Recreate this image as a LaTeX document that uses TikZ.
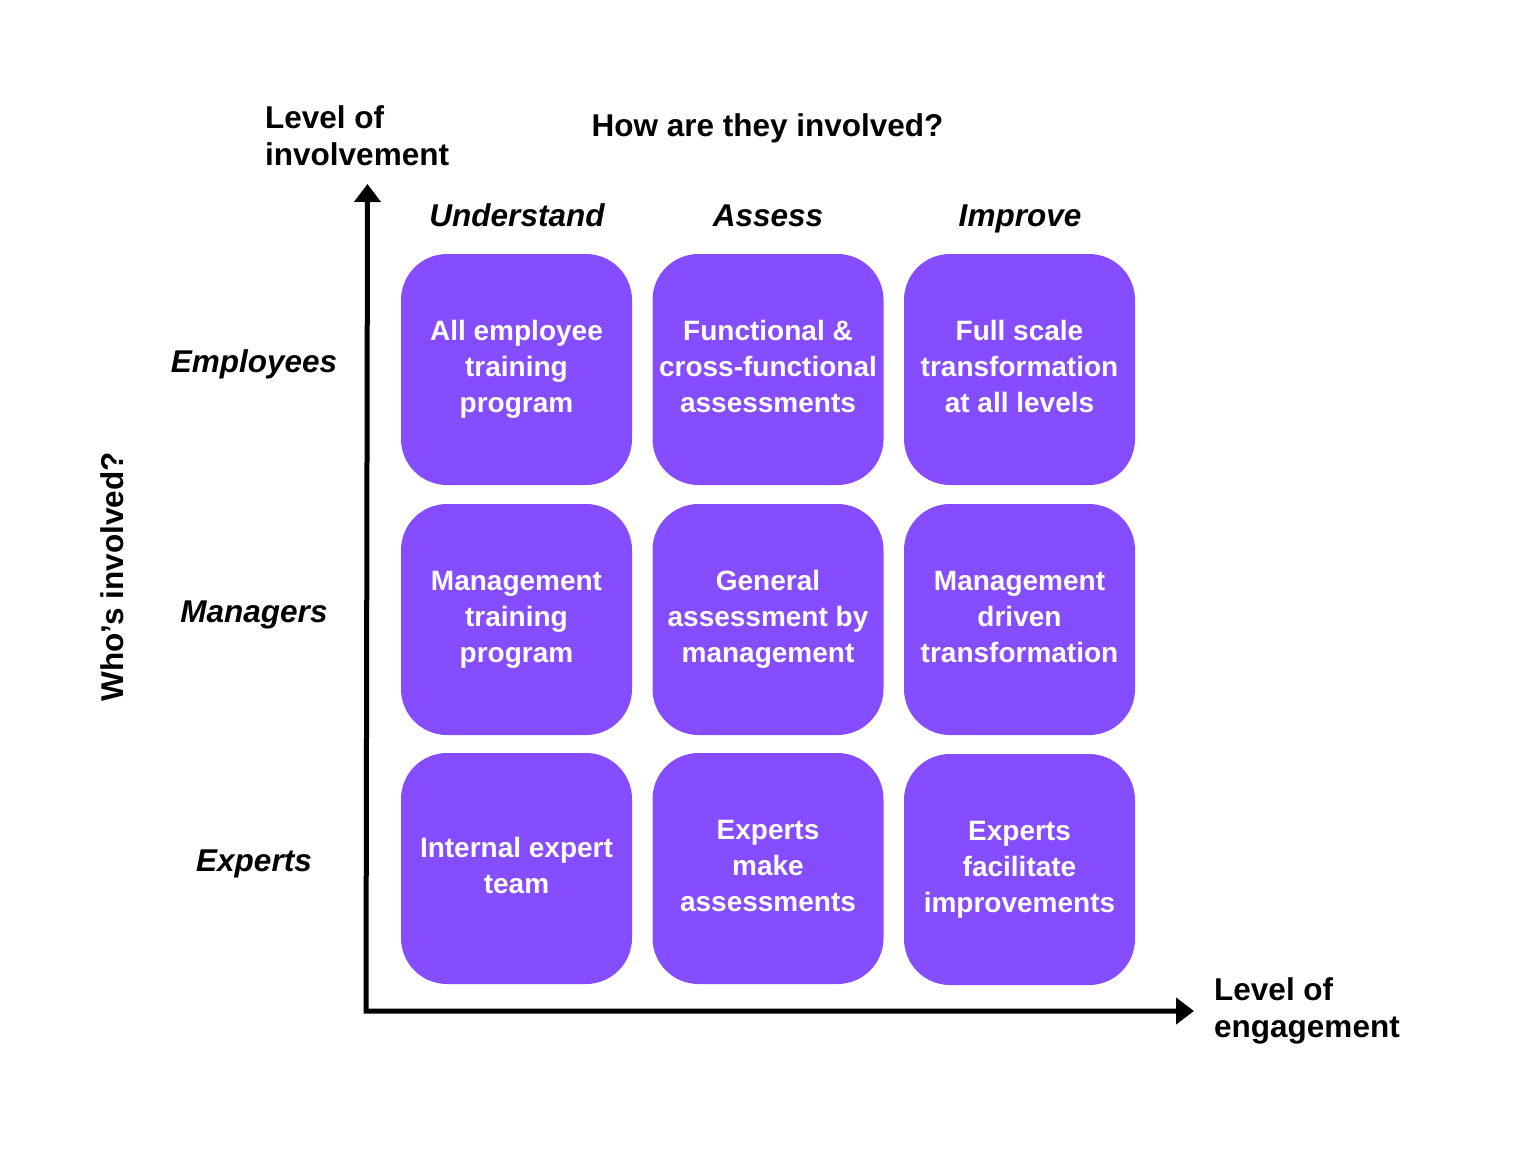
\documentclass[tikz,border=0pt]{standalone}
\usepackage{fontspec}
\setmainfont{Liberation Sans}
\usetikzlibrary{arrows.meta}
\definecolor{boxpurple}{HTML}{854DFF}
\newcommand{\lp}{\vphantom{Alg}}
\tikzset{
  cell/.style={fill=boxpurple, draw=none, rounded corners=46pt, minimum width=231pt, minimum height=231pt,
    text=white, font=\bfseries\fontsize{28}{36}\selectfont, align=center, inner sep=0pt},
  head/.style={font=\bfseries\fontsize{31.5}{37.5}\selectfont, inner sep=0pt, text=black},
  colhead/.style={font=\bfseries\itshape\fontsize{31.5}{37.5}\selectfont, inner sep=0pt, anchor=base},
  axis/.style={line width=5pt, line join=miter, {Triangle[length=18pt,width=26pt]}-{Triangle[length=18pt,width=26pt]}}
}
\begin{document}
\begin{tikzpicture}[x=1pt,y=-1pt]
\useasboundingbox (0,0) rectangle (1536,1152);
\fill[white] (0,0) rectangle (1536,1152);
% axes
\coordinate (ytip) at (367.5,184);
\coordinate (orig) at (366,1011);
\coordinate (xtip) at (1194,1011);
\draw[axis] (ytip) -- (orig) -- (xtip);
% headings
\node[head, anchor=north west, align=left] (yaxl) at (265,105) {Level of\\involvement};
\node[head, anchor=base] (howl) at (767.5,136) {How are they involved?};
\node[head, anchor=north west, align=left] (xaxl) at (1214,977) {Level of\\engagement};
\node[head, anchor=base, rotate=90] (whol) at (123,577) {Who’s involved?};
% column headings
\node[colhead] (c1) at (517,226) {Understand};
\node[colhead] (c2) at (768,226) {Assess};
\node[colhead] (c3) at (1020,226) {Improve};
% row headings
\node[colhead] (r1) at (254,372) {Employees};
\node[colhead] (r2) at (254,622) {Managers};
\node[colhead] (r3) at (254,871) {Experts};
% cells
\node[cell] (b11) at (516.5,369.5) {\lp All employee\\training\\program\lp};
\node[cell] (b12) at (768,369.5) {\lp Functional \&\\cross-functional\\assessments\lp};
\node[cell] (b13) at (1019.5,369.5) {\lp Full scale\\transformation\\at all levels\lp};
\node[cell] (b21) at (516.5,619.5) {\lp Management\\training\\program\lp};
\node[cell] (b22) at (768,619.5) {\lp General\\assessment by\\management\lp};
\node[cell] (b23) at (1019.5,619.5) {\lp Management\\driven\\transformation\lp};
\node[cell] (b31) at (516.5,868.5) {\lp Internal expert\\team\lp};
\node[cell] (b32) at (768,868.5) {\lp Experts\\make\\assessments\lp};
\node[cell] (b33) at (1019.5,869.5) {\lp Experts\\facilitate\\improvements\lp};
\end{tikzpicture}
\end{document}
